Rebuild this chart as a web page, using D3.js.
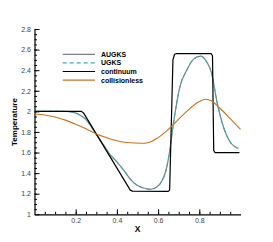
<!DOCTYPE html>
<html>
<head>
<meta charset="utf-8">
<script src="https://cdn.jsdelivr.net/npm/d3@7"></script>
<style>
  body { margin: 0; background: #fff; }
  svg { display: block; font-family: "Liberation Sans", Arial, sans-serif; }
</style>
</head>
<body>
<div id="chart"></div>
<script>
// data
var seriesNames = ["AUGKS", "UGKS", "continuum", "collisionless"];

var kinX = [0, 0.1, 0.15, 0.19, 0.22, 0.25, 0.3, 0.33, 0.3665, 0.4, 0.44, 0.47, 0.5, 0.53, 0.56, 0.59, 0.62, 0.64, 0.655, 0.67, 0.682, 0.706, 0.739, 0.771, 0.807, 0.836, 0.86, 0.884, 0.917, 0.949, 0.99];
var augksT = [2.0, 2.0, 1.999, 1.99, 1.965, 1.92, 1.775, 1.69, 1.58, 1.51, 1.41, 1.33, 1.28, 1.255, 1.243, 1.26, 1.33, 1.44, 1.6, 1.82, 1.98, 2.24, 2.40, 2.505, 2.537, 2.48, 2.37, 2.11, 1.85, 1.705, 1.64];
var ugksT  = [2.0, 2.0, 1.999, 1.99, 1.965, 1.92, 1.775, 1.69, 1.58, 1.51, 1.41, 1.33, 1.28, 1.255, 1.243, 1.26, 1.33, 1.44, 1.6, 1.82, 1.98, 2.24, 2.40, 2.505, 2.537, 2.48, 2.37, 2.11, 1.85, 1.705, 1.64];

var contX = [0, 0.228, 0.238, 0.465, 0.475, 0.648, 0.656, 0.672, 0.68, 0.69, 0.858, 0.864, 0.87, 0.876, 0.995];
var contT = [2.0, 2.0, 1.985, 1.235, 1.225, 1.222, 1.235, 2.50, 2.555, 2.562, 2.56, 2.54, 1.62, 1.6, 1.6];

var freeX = [0, 0.05, 0.1, 0.15, 0.2, 0.25, 0.3, 0.35, 0.4, 0.45, 0.52, 0.55, 0.6, 0.65, 0.7, 0.75, 0.8, 0.83, 0.86, 0.9, 0.95, 1.0];
var freeT = [1.975, 1.965, 1.945, 1.915, 1.875, 1.83, 1.78, 1.745, 1.715, 1.697, 1.69, 1.695, 1.745, 1.825, 1.925, 2.02, 2.095, 2.117, 2.1, 2.03, 1.93, 1.825];

var xTicks = [0.2, 0.4, 0.6, 0.8];
var yTicks = [1, 1.2, 1.4, 1.6, 1.8, 2, 2.2, 2.4, 2.6, 2.8];

var W = 273, H = 242;
var svg = d3.select("#chart").append("svg")
  .attr("width", W)
  .attr("height", H);

var x = d3.scaleLinear().domain([0, 1]).range([34.5, 240.5]);
var y = d3.scaleLinear().domain([1, 2.8]).range([214.3, 29]);

// minor ticks
svg.append("g")
  .attr("transform", "translate(0," + y(1) + ")")
  .call(d3.axisBottom(x).tickValues(d3.range(0.05, 1, 0.05)).tickSize(-2.5).tickSizeOuter(0).tickFormat(""))
  .call(g => g.select(".domain").remove());
svg.append("g")
  .attr("transform", "translate(" + x(0) + ",0)")
  .call(d3.axisLeft(y).tickValues(d3.range(1.05, 2.8, 0.05)).tickSize(-2.5).tickSizeOuter(0).tickFormat(""))
  .call(g => g.select(".domain").remove());

// major axes
var xAxis = svg.append("g")
  .attr("transform", "translate(0," + y(1) + ")")
  .call(d3.axisBottom(x).tickValues(xTicks).tickSize(-5).tickSizeOuter(0).tickPadding(3.5).tickFormat(d => d3.format(".1f")(d)));
var yAxis = svg.append("g")
  .attr("transform", "translate(" + x(0) + ",0)")
  .call(d3.axisLeft(y).tickValues(yTicks).tickSize(-5).tickSizeOuter(0).tickPadding(3.5).tickFormat(d => String(+d.toFixed(1))));

svg.selectAll(".tick line").attr("stroke", "#000").attr("stroke-width", 1);
svg.selectAll(".domain").attr("stroke", "#000").attr("stroke-width", 1.2);
svg.selectAll(".tick text")
  .attr("font-family", "'Liberation Sans', Arial, sans-serif")
  .attr("font-size", 7)
  .attr("fill", "#444");

// axis titles
svg.append("text")
  .attr("x", 137.5).attr("y", 231.5)
  .attr("text-anchor", "middle")
  .attr("font-size", 8.5).attr("font-weight", "bold")
  .text("X");
svg.append("text")
  .attr("transform", "translate(16.5,122) rotate(-90)")
  .attr("text-anchor", "middle")
  .attr("font-size", 8).attr("font-weight", "bold")
  .text("Temperature");

// curves
var smooth = d3.line().x(d => x(d[0])).y(d => y(d[1])).curve(d3.curveMonotoneX);
var straight = d3.line().x(d => x(d[0])).y(d => y(d[1])).curve(d3.curveLinear);

var styles = [
  { color: "#7f7f7f", width: 1.2, dash: null },
  { color: "#3fa9ad", width: 1.1, dash: "4,3" },
  { color: "#000000", width: 1.2, dash: null },
  { color: "#c8731f", width: 1.1, dash: null }
];

var data = [
  d3.zip(kinX, augksT),
  d3.zip(kinX, ugksT),
  d3.zip(contX, contT),
  d3.zip(freeX, freeT)
];

data.forEach(function(d, i) {
  svg.append("path")
    .attr("d", i === 2 ? straight(d) : smooth(d))
    .attr("fill", "none")
    .attr("stroke", styles[i].color)
    .attr("stroke-width", styles[i].width)
    .attr("stroke-dasharray", styles[i].dash)
    .attr("stroke-linejoin", "round");
});

// legend
var legend = svg.append("g");
seriesNames.forEach(function(name, i) {
  var ly = 54.3 + i * 8.6;
  legend.append("line")
    .attr("x1", 62.7).attr("x2", 95)
    .attr("y1", ly).attr("y2", ly)
    .attr("stroke", styles[i].color)
    .attr("stroke-width", styles[i].width)
    .attr("stroke-dasharray", styles[i].dash);
  legend.append("text")
    .attr("x", 101).attr("y", ly + 2.5)
    .attr("font-size", 7).attr("font-weight", "bold")
    .text(name);
});
</script>
</body>
</html>
